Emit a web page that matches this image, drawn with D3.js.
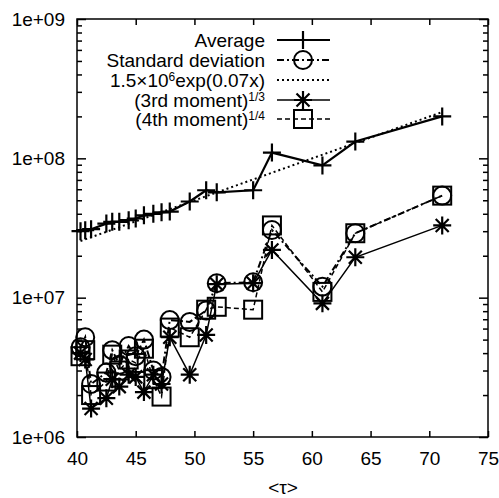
<!DOCTYPE html>
<html>
<head>
<meta charset="utf-8">
<script src="https://cdn.jsdelivr.net/npm/d3@7"></script>
<style>
body { margin: 0; background: #fff; }
text { font-family: "Liberation Sans", Arial, Helvetica, sans-serif; fill: #000; }
</style>
</head>
<body>
<svg id="chart"></svg>
<script>
// mean tau of each group
var tau = [40.3, 40.7, 41.2, 42.5, 43.0, 43.6, 44.4, 45.0, 45.7, 46.5, 47.2, 47.9, 49.6, 51.0, 51.9, 55.0, 56.6, 60.9, 63.7, 71.1];

var average = [3.0e7, 3.05e7, 3.1e7, 3.4e7, 3.5e7, 3.5e7, 3.6e7, 3.7e7, 3.9e7, 4.0e7, 4.1e7, 4.15e7, 4.9e7, 5.9e7, 5.7e7, 5.9e7, 1.1e8, 8.9e7, 1.32e8, 2.0e8];
var stdDev = [4.4e6, 5.2e6, 2.4e6, 2.9e6, 4.2e6, 3.3e6, 4.5e6, 3.8e6, 5.0e6, 3.0e6, 2.7e6, 6.9e6, 6.7e6, 8.1e6, 1.27e7, 1.29e7, 3.06e7, 1.2e7, 2.9e7, 5.4e7];
var moment3 = [4.0e6, 3.6e6, 1.6e6, 1.9e6, 2.6e6, 2.3e6, 2.8e6, 2.7e6, 2.1e6, 2.8e6, 2.4e6, 5.2e6, 2.8e6, 5.4e6, 1.25e7, 1.27e7, 2.2e7, 9.1e6, 1.95e7, 3.3e7];
var moment4 = [3.8e6, 4.2e6, 2.0e6, 2.5e6, 3.9e6, 3.0e6, 3.6e6, 3.4e6, 4.3e6, 2.6e6, 1.95e6, 6.1e6, 5.2e6, 8.2e6, 8.6e6, 8.2e6, 3.3e7, 1.1e7, 2.9e7, 5.4e7];

// fit line ends
var fitX = [40.3, 71.1];
var fitY = [2.55e7, 2.15e8];

var xTicks = [40, 45, 50, 55, 60, 65, 70, 75];
var yTicks = [1e6, 1e7, 1e8, 1e9];

var W = 499, H = 498;
var svg = d3.select('#chart').attr('width', W).attr('height', H);

var x = d3.scaleLinear().domain([40, 75]).range([77, 488]);
var y = d3.scaleLog().domain([1e6, 1e9]).range([437, 19]);

// minor log ticks
var yMinor = [];
[6, 7, 8].forEach(function (k) {
    for (var m = 2; m <= 9; m++) yMinor.push(m * Math.pow(10, k));
});

function fmtExp(d) {
    var e = Math.round(Math.log10(d));
    return '1e+' + (e < 10 ? '0' + e : e);
}

function styleAxis(g) {
    g.select('.domain').remove();
    g.selectAll('line').attr('stroke', '#000').attr('stroke-width', 1.5);
    g.selectAll('text').attr('font-size', 19).attr('font-family', '"Liberation Sans", Arial, sans-serif').attr('fill', '#000');
}

svg.append('g').attr('transform', 'translate(0,437)')
    .call(d3.axisBottom(x).tickValues(xTicks).tickSizeInner(-6).tickSizeOuter(0).tickPadding(15))
    .call(styleAxis);
svg.append('g').attr('transform', 'translate(0,19)')
    .call(d3.axisTop(x).tickValues(xTicks).tickSizeInner(-6).tickSizeOuter(0).tickFormat(''))
    .call(styleAxis);

svg.append('g').attr('transform', 'translate(77,0)')
    .call(d3.axisLeft(y).tickValues(yTicks).tickSizeInner(-9).tickSizeOuter(0).tickPadding(12).tickFormat(fmtExp))
    .call(styleAxis);
svg.append('g').attr('transform', 'translate(77,0)')
    .call(d3.axisLeft(y).tickValues(yMinor).tickSizeInner(-5).tickSizeOuter(0).tickFormat(''))
    .call(styleAxis);
svg.append('g').attr('transform', 'translate(488,0)')
    .call(d3.axisRight(y).tickValues(yTicks).tickSizeInner(-9).tickSizeOuter(0).tickFormat(''))
    .call(styleAxis);
svg.append('g').attr('transform', 'translate(488,0)')
    .call(d3.axisRight(y).tickValues(yMinor).tickSizeInner(-5).tickSizeOuter(0).tickFormat(''))
    .call(styleAxis);

// frame
svg.append('rect')
    .attr('x', x(40)).attr('y', y(1e9))
    .attr('width', x(75) - x(40)).attr('height', y(1e6) - y(1e9))
    .attr('fill', 'none').attr('stroke', '#000').attr('stroke-width', 1.5);

// markers
var plusPath = 'M-9,0H9M0,-9V9';
var starPath = 'M-9,0H9M0,-9V9M-6.5,-6.5L6.5,6.5M-6.5,6.5L6.5,-6.5';

function drawMarker(g, type, cx, cy) {
    if (type === 'plus' || type === 'star') {
        g.append('path').attr('d', type === 'plus' ? plusPath : starPath)
            .attr('transform', 'translate(' + cx + ',' + cy + ')')
            .attr('fill', 'none').attr('stroke', '#000').attr('stroke-width', 2.2);
    } else if (type === 'circle') {
        g.append('circle').attr('cx', cx).attr('cy', cy).attr('r', 9)
            .attr('fill', 'none').attr('stroke', '#000').attr('stroke-width', 2);
    } else if (type === 'square') {
        g.append('rect').attr('x', cx - 9).attr('y', cy - 9).attr('width', 18).attr('height', 18)
            .attr('fill', 'none').attr('stroke', '#000').attr('stroke-width', 2);
    }
}

var series = [
    { vals: average, marker: 'plus', dash: null, width: 2.2 },
    { vals: stdDev, marker: 'circle', dash: '7,3,2,3', width: 2 },
    { vals: null, marker: null, dash: '2,3', width: 2 },
    { vals: moment3, marker: 'star', dash: null, width: 1.5 },
    { vals: moment4, marker: 'square', dash: '5,3', width: 1.5 }
];

var line = d3.line()
    .x(function (d) { return x(d[0]); })
    .y(function (d) { return y(d[1]); });

var plot = svg.append('g');
series.forEach(function (s) {
    var pts = s.vals ? tau.map(function (t, i) { return [t, s.vals[i]]; })
                     : fitX.map(function (t, i) { return [t, fitY[i]]; });
    plot.append('path')
        .attr('d', line(pts))
        .attr('fill', 'none')
        .attr('stroke', '#000')
        .attr('stroke-width', s.width)
        .attr('stroke-dasharray', s.dash);
    if (s.marker) {
        pts.forEach(function (p) { drawMarker(plot, s.marker, x(p[0]), y(p[1])); });
    }
});

// legend
var legendRows = [40, 60, 80, 100, 119];
var legend = svg.append('g');
var labels = [
    [{ t: 'Average' }],
    [{ t: 'Standard deviation' }],
    [{ t: '1.5\u00d710' }, { t: '6', sup: true }, { t: 'exp(0.07x)' }],
    [{ t: '(3rd moment)' }, { t: '1/3', sup: true }],
    [{ t: '(4th moment)' }, { t: '1/4', sup: true }]
];
series.forEach(function (s, i) {
    var cy = legendRows[i];
    var txt = legend.append('text')
        .attr('x', 265).attr('y', cy + 7)
        .attr('text-anchor', 'end')
        .attr('font-size', 19);
    labels[i].forEach(function (part, j) {
        var ts = txt.append('tspan').text(part.t);
        if (part.sup) {
            ts.attr('font-size', 12).attr('dy', -6);
        } else if (j > 0 && labels[i][j - 1].sup) {
            ts.attr('dy', 6);
        }
    });
    legend.append('line')
        .attr('x1', 277).attr('x2', 330).attr('y1', cy).attr('y2', cy)
        .attr('stroke', '#000').attr('stroke-width', s.width)
        .attr('stroke-dasharray', s.dash);
    if (s.marker) drawMarker(legend, s.marker, 303, cy);
});

// x axis title
svg.append('text')
    .attr('x', 283).attr('y', 494)
    .attr('text-anchor', 'middle')
    .attr('font-size', 19)
    .text('<\u03c4>');
</script>
</body>
</html>
